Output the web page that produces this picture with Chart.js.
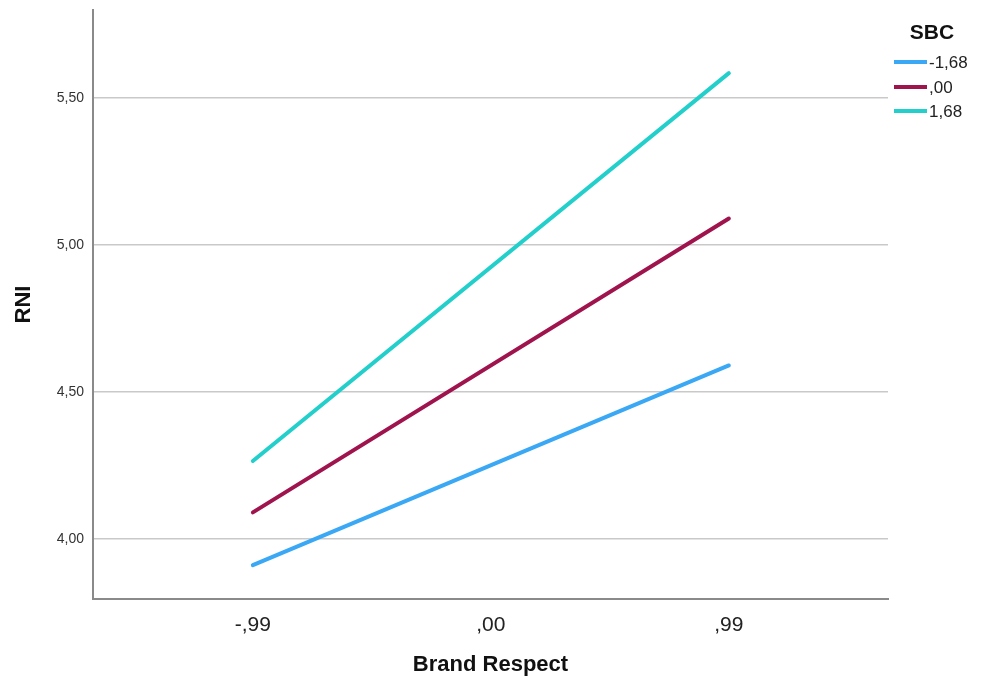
<!DOCTYPE html>
<html>
<head>
<meta charset="utf-8">
<script src="https://cdn.jsdelivr.net/npm/chart.js@4.4.1/dist/chart.umd.min.js"></script>
<style>
  html, body { margin: 0; padding: 0; background: #ffffff; }
  #wrap { width: 988px; height: 682px; position: relative; }
</style>
</head>
<body>
<div id="wrap"><canvas id="c" width="988" height="682"></canvas></div>
<script>
// Brand Respect levels (x) and predicted RNI for each SBC level
const xLevels = [-0.99, 0.99];
const xTickValues = [-0.99, 0, 0.99];
const xTickLabels = ['-,99', ',00', ',99'];
const yTickValues = [4.0, 4.5, 5.0, 5.5];
const sbcLabels = ['-1,68', ',00', '1,68'];
const rniLow = [3.91, 4.59];
const rniMid = [4.09, 5.09];
const rniHigh = [4.265, 5.585];
const seriesColors = ['#3aa8f4', '#a0144e', '#22cfcb'];

const FONT = '"Liberation Sans", Arial, sans-serif';

const fmt = v => {
  const s = Math.abs(v).toFixed(2).replace('.', ',');
  const t = s.startsWith('0') ? s.slice(1) : s;
  return (v < 0 ? '-' : '') + t;
};

const series = [rniLow, rniMid, rniHigh];
const datasets = series.map((vals, i) => ({
  label: sbcLabels[i],
  data: vals.map((y, j) => ({ x: xLevels[j], y })),
  borderColor: seriesColors[i],
  backgroundColor: seriesColors[i],
  borderWidth: 4,
  pointRadius: 0,
  borderCapStyle: 'round',
  tension: 0
}));

// Legend drawn at the upper right, titled SBC
const sideLegend = {
  id: 'sideLegend',
  afterDraw(chart) {
    const ctx = chart.ctx;
    const rows = [62, 87, 111];
    ctx.save();
    ctx.fillStyle = '#111';
    ctx.font = 'bold 21px ' + FONT;
    ctx.textAlign = 'center';
    ctx.textBaseline = 'middle';
    ctx.fillText('SBC', 932, 33);
    ctx.font = '17px ' + FONT;
    ctx.textAlign = 'left';
    chart.data.datasets.forEach((ds, i) => {
      const y = rows[i];
      ctx.strokeStyle = ds.borderColor;
      ctx.lineWidth = 4;
      ctx.lineCap = 'butt';
      ctx.beginPath();
      ctx.moveTo(894, y);
      ctx.lineTo(927, y);
      ctx.stroke();
      ctx.fillStyle = '#222';
      ctx.fillText(ds.label, 929, y + 1);
    });
    ctx.restore();
  }
};

new Chart(document.getElementById('c'), {
  type: 'line',
  data: { datasets },
  plugins: [sideLegend],
  options: {
    responsive: false,
    animation: false,
    layout: { padding: { left: 0, top: 10, right: 100, bottom: 0 } },
    plugins: { legend: { display: false }, tooltip: { enabled: false } },
    scales: {
      x: {
        type: 'linear',
        min: -1.655,
        max: 1.652,
        afterBuildTicks(axis) { axis.ticks = xTickValues.map(v => ({ value: v })); },
        afterFit(axis) { axis.height = 83; axis.paddingLeft = 0; axis.paddingRight = 0; },
        ticks: {
          callback: (v) => { const k = xTickValues.indexOf(v); return k >= 0 ? xTickLabels[k] : ''; },
          color: '#222',
          font: { family: FONT, size: 21 },
          padding: 14,
          maxRotation: 0
        },
        grid: { display: false, drawTicks: false },
        border: { display: true, color: '#8a8a8a', width: 2 },
        title: {
          display: true,
          text: 'Brand Respect',
          color: '#111',
          font: { family: FONT, size: 22, weight: 'bold' },
          padding: { top: 4, bottom: 4 }
        }
      },
      y: {
        type: 'linear',
        min: 3.795,
        max: 5.80,
        afterBuildTicks(axis) { axis.ticks = yTickValues.map(v => ({ value: v })); },
        afterFit(axis) { axis.width = 93; axis.paddingTop = 0; axis.paddingBottom = 0; },
        ticks: {
          callback: (v) => fmt(v),
          color: '#333',
          font: { family: FONT, size: 14 },
          padding: 9
        },
        grid: { color: '#c9c9c9', lineWidth: 1.5, drawTicks: false },
        border: { display: true, color: '#8a8a8a', width: 2 },
        title: {
          display: true,
          text: 'RNI',
          color: '#111',
          font: { family: FONT, size: 22, weight: 'bold' },
          padding: { top: 11, bottom: 11 }
        }
      }
    }
  }
});
</script>
</body>
</html>
